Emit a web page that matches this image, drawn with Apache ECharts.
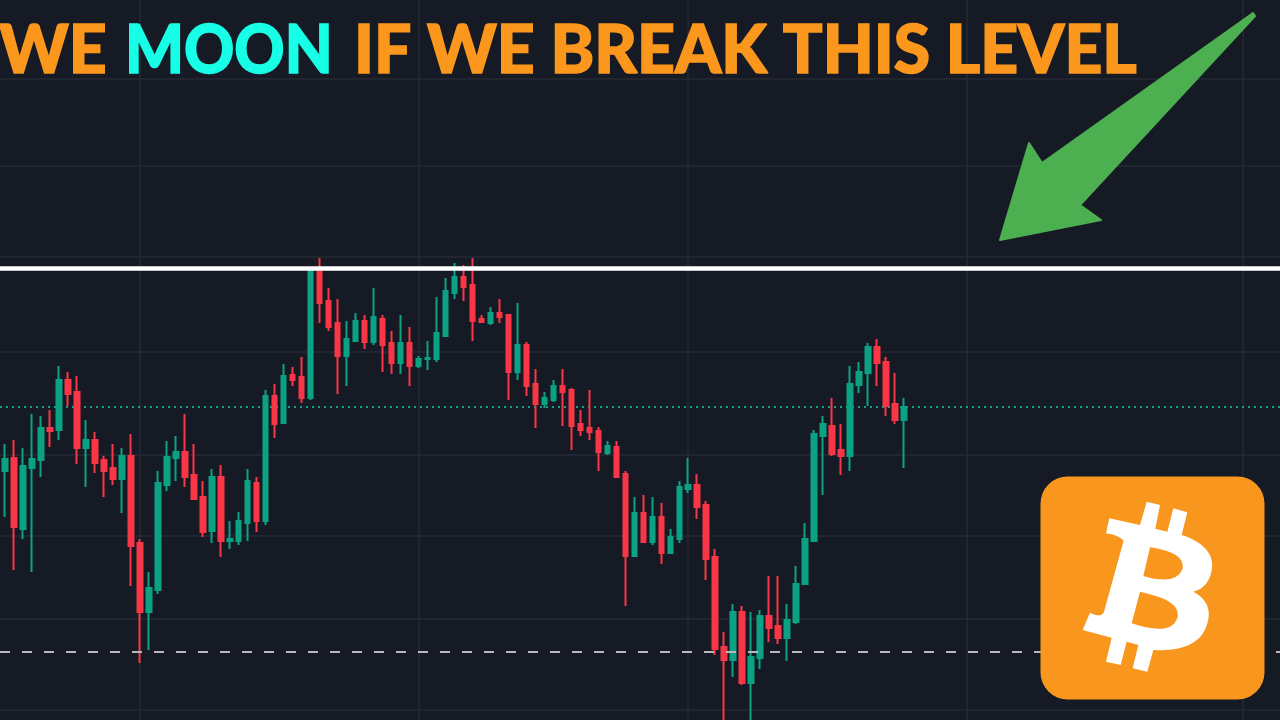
<!DOCTYPE html>
<html><head><meta charset="utf-8">
<style>html,body{margin:0;padding:0;background:#161A25}#c{width:1280px;height:720px}</style>
<script src="https://cdn.jsdelivr.net/npm/echarts@6/dist/echarts.min.js"></script>
</head><body><div id="c"></div>
<script>
const opens=[249,262,191,252,260,292,290,340,328,272,280,260,252,241,264,177,108,130,235,262,268,245,223,189,243,179,179,197,237,199,324,297,345,343,322,449,419,397,364,379,399,378,401,377,357,377,354,361,361,384,427,443,435,401,397,407,405,348,375,336,316,320,334,330,296,292,289,267,273,246,164,207,178,203,167,181,231,235,215,163,73,60,108,37,62,104,94,82,98,136,179,284,294,270,264,335,347,373,358,316,300];
const closes=[261,193,254,261,292,289,340,326,272,280,257,249,241,264,174,108,132,237,263,268,243,221,188,243,179,181,199,239,199,324,296,344,340,322,450,417,393,364,381,399,378,403,375,357,377,354,361,362,387,429,443,433,399,398,407,403,348,375,334,316,322,334,328,294,290,288,268,274,243,164,207,178,203,167,183,233,235,213,161,71,60,108,37,63,104,92,82,100,136,181,286,296,266,264,336,348,373,357,314,300,313];
const lows=[203,150,181,148,243,273,280,314,256,233,247,223,235,207,134,57,70,126,229,239,233,221,183,177,163,171,175,179,188,195,282,296,334,317,320,397,389,326,334,378,371,375,348,346,346,334,352,350,358,383,421,419,379,397,395,397,320,340,324,292,312,318,294,270,284,280,249,265,243,114,164,177,175,156,167,177,227,201,140,65,-5,43,35,-5,51,78,76,59,96,136,179,225,264,245,249,327,314,334,304,296,252];
const highs=[276,280,272,306,304,310,354,348,344,300,288,264,276,272,286,181,148,249,279,284,306,276,239,251,255,199,208,251,243,330,336,356,353,363,451,462,432,421,399,407,405,432,405,389,405,393,364,379,423,442,457,455,462,405,413,421,405,417,378,351,328,340,351,332,310,330,293,279,279,249,223,225,223,217,191,239,262,246,219,171,88,116,114,108,110,144,144,116,154,197,290,304,322,296,354,358,377,381,363,347,322];
const emptySlots=41;
const categories=Array.from({length:opens.length+emptySlots},(_,i)=>String(i+1));
const gridPrices=[641,554,463,368,265,184,101,10];
const gridTimes=[140,419,688,967,1243];
const resistanceLevel=[452];
const lastPriceLevel=[313];
const supportLevel=[68];
const titleParts=["WE","MOON","IF WE BREAK THIS LEVEL"];

const candles=opens.map((o,i)=>[o,closes[i],lows[i],highs[i]]);
const chart=echarts.init(document.getElementById('c'),null,{renderer:'canvas'});
const ml=(data,color,width,type,z)=>({type:'line',xAxisIndex:1,yAxisIndex:1,data:[],z,silent:true,animation:false,
  markLine:{silent:true,animation:false,symbol:'none',label:{show:false},z,
    lineStyle:{color,width,type,opacity:1,cap:'butt'},data}});
const titleText=(text,x,sx,fill)=>({type:'text',z:10,silent:true,x,y:19,scaleX:sx,
  style:{text,fill,stroke:fill,lineWidth:1.5,font:'900 66px Lato',textVerticalAlign:'top',textAlign:'left'}});
echarts.graphic.registerShape('bitcoinGlyph',echarts.graphic.extendPath('M350 95 L390 105 L376 176 L412 185 L430 115 L472 127 L455 195 C520 215 555 255 545 300 C540 335 520 358 490 365 C530 385 545 420 532 460 C515 525 450 545 370 540 L352 605 L308 595 L325 525 L290 515 L272 585 L228 575 L245 503 L158 480 L180 428 C200 438 215 440 222 425 L280 215 C282 205 250 192 228 190 L238 145 L330 165 Z M360 232 L340 318 C395 335 445 335 458 295 C465 255 410 240 360 232 Z M330 365 L305 460 C365 480 430 490 443 440 C450 395 385 378 330 365 Z'));
chart.setOption({
  animation:false,backgroundColor:'#161A25',
  grid:[{left:0.505,top:0,width:8.99*categories.length,height:720},{left:0,top:0,width:1280,height:720}],
  xAxis:[{type:'category',gridIndex:0,data:categories,show:false},
         {type:'value',gridIndex:1,min:0,max:1280,show:false}],
  yAxis:[{type:'value',gridIndex:0,min:0,max:720,show:false},
         {type:'value',gridIndex:1,min:0,max:720,show:false}],
  series:[
    ml(gridPrices.map(v=>({yAxis:v})).concat(gridTimes.map(v=>({xAxis:v}))),'#262A35',1.5,'solid',1),
    ml(lastPriceLevel.map(v=>({yAxis:v})),'#14A08C',2,[2,4],2),
    {type:'candlestick',xAxisIndex:0,yAxisIndex:0,data:candles,barWidth:5,z:3,silent:true,animation:false,
     itemStyle:{color:'#0BA283',color0:'#F93647',borderColor:'#0BA283',borderColor0:'#F93647',borderWidth:2}},
    ml(resistanceLevel.map(v=>({yAxis:v})),'#FFFFFF',4.5,'solid',4),
    ml(supportLevel.map(v=>({yAxis:v})),'#B8B8B8',2,[10,12],4)
  ],
  graphic:[
    titleText(titleParts[0],-1,1,'#FB971C'),
    titleText(titleParts[1],125,0.94,'#17FFE6'),
    titleText(titleParts[2],354,1,'#FB971C'),
    {type:'polygon',z:10,silent:true,shape:{points:[[1253,13],[1255,16],[1080,205],[1101,220],[1000,240],[1029,143],[1042,163]]},
     style:{fill:'#4CAF50',stroke:'#4CAF50',lineWidth:2,lineJoin:'round'}},
    {type:'rect',z:10,silent:true,shape:{x:1040.5,y:476.5,width:224,height:223,r:27},style:{fill:'#F8961E'}},
    {type:'bitcoinGlyph',z:11,silent:true,x:1030,y:470,scaleX:1/3,scaleY:1/3,style:{fill:'#FFFFFF'}}
  ]
});
</script></body></html>
